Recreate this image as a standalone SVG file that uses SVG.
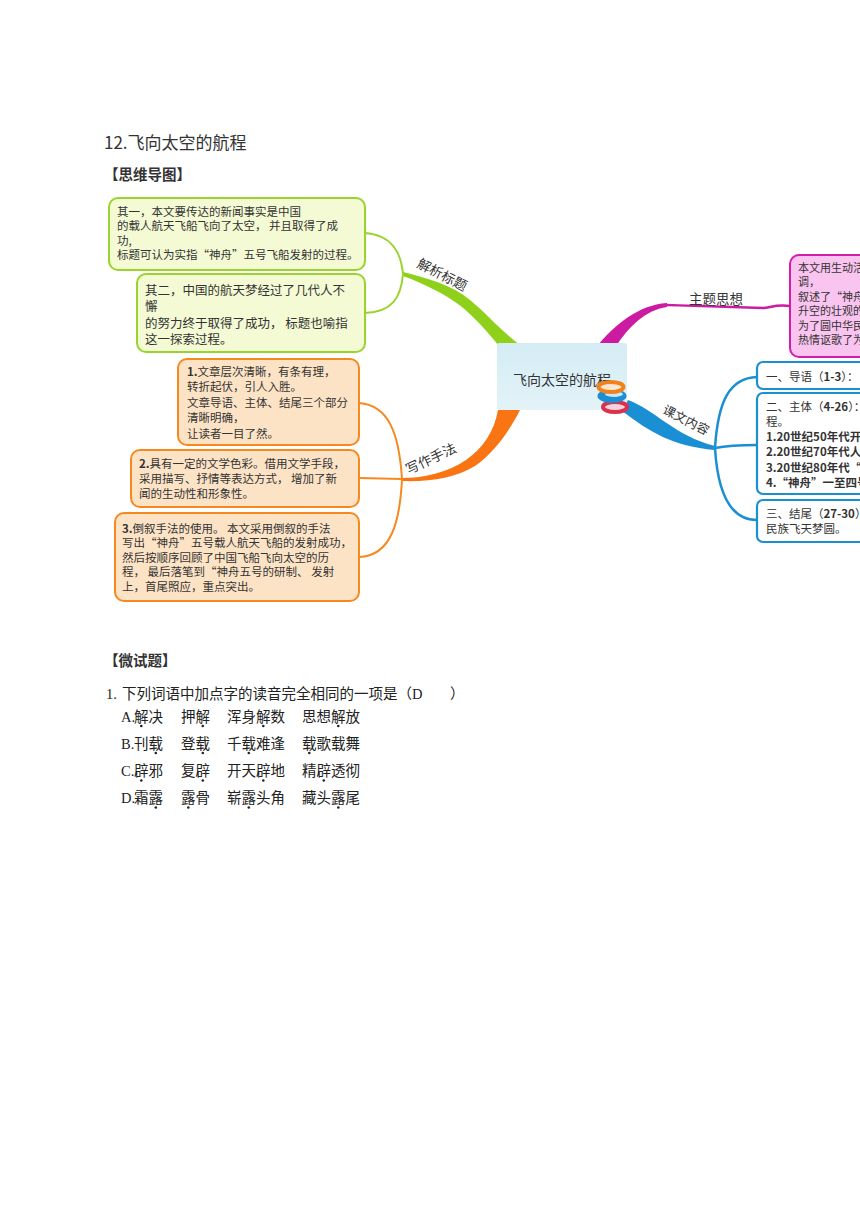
<svg xmlns="http://www.w3.org/2000/svg" width="860" height="1216" viewBox="0 0 860 1216">
<defs>
<style>
text{font-family:"Noto Sans CJK SC","Liberation Sans",sans-serif;fill:#333;}
.ser{font-family:"Liberation Serif","Noto Sans CJK SC",serif;fill:#222;}
.bt{font-size:11.5px;}
.bt2{font-size:12.5px;}
.pt{font-size:11px;}
.q{font-size:14.5px;}
.lab{font-size:13.5px;fill:#333;}
.b{font-weight:bold;}
.gbox{fill:#f3fad4;stroke:#98d42c;stroke-width:2;}
.obox{fill:#fde3c6;stroke:#f5891f;stroke-width:2;}
.pbox{fill:#f9c4ef;stroke:#d01ea8;stroke-width:2;}
.bbox{fill:#fff;stroke:#1a8fd4;stroke-width:2.2;}
.gl{fill:none;stroke:#98d42c;stroke-width:2;}
.ol{fill:none;stroke:#f5891f;stroke-width:2;}
.bl{fill:none;stroke:#1a8fd4;stroke-width:2.5;}
.pl{fill:none;stroke:#cc1aa3;stroke-width:2.5;}
.dot{fill:#222;}
</style>
<linearGradient id="cg" x1="0" y1="0" x2="0" y2="1">
<stop offset="0" stop-color="#d4ecf5"/>
<stop offset="1" stop-color="#e3f3f8"/>
</linearGradient>
</defs>
<rect width="860" height="1216" fill="#fff"/>

<!-- headings -->
<text x="104" y="148.5" style="font-size:17px">12.飞向太空的航程</text>
<text x="104" y="179.5" class="b" style="font-size:14.5px">【思维导图】</text>

<!-- connectors -->
<g id="connectors">
<path d="M403,272 C430,279 452,285 470,300 C485,312 500,330 520,345 L498,345 C488,332 475,318 462,307 C445,294 425,284 403,276 Z" fill="#8fd11a"/>
<path class="gl" d="M365,233 C392,235 401,252 403,274 C401,298 392,312 365,313"/>
<path d="M402,478 C425,478 448,472 466,460 C483,448 494,432 498,410 L520,410 C510,430 495,452 475,466 C455,478 430,482 402,481 Z" fill="#f97514"/>
<path class="ol" d="M359,403 C388,405 399,432 402,479 C400,520 392,556 359,557"/>
<path class="ol" d="M359,478 L402,479"/>
<path d="M598,345 C615,325 638,305 667,303 L667,307 C645,310 628,328 617,345 Z" fill="#cc1aa3"/>
<path class="pl" d="M666,305 C700,306 735,307 763,308 C770,308 775,304 790,306"/>
<path d="M628,400 C655,410 675,436 715,446 L715,450 C672,446 650,432 622,411 Z" fill="#1a8fd4"/>
<path class="bl" d="M715,448 C718,400 730,378 757,377"/>
<path class="bl" d="M715,448 C730,445 742,445 757,445"/>
<path class="bl" d="M715,448 C718,498 733,520 757,520"/>
<text class="lab" transform="translate(440,279) rotate(27)" text-anchor="middle">解析标题</text>
<text class="lab" transform="translate(433,463) rotate(-25)" text-anchor="middle">写作手法</text>
<text class="lab" transform="translate(684,424) rotate(27)" text-anchor="middle" style="font-size:12.5px">课文内容</text>
<text class="lab" x="716" y="304" text-anchor="middle" style="font-size:13.5px">主题思想</text>
</g>

<!-- center -->
<g id="center">
<rect x="497" y="343" width="130" height="67" rx="2" fill="url(#cg)"/>
<text x="562" y="385" text-anchor="middle" style="font-size:14px">飞向太空的航程</text>
<ellipse cx="615" cy="407" rx="12" ry="5" fill="#f6d2dc" stroke="#d8324e" stroke-width="4"/>
<ellipse cx="612" cy="396" rx="14.5" ry="7" fill="#1a8fd4"/>
<ellipse cx="614" cy="394" rx="9" ry="3" fill="#c6e8f8"/>
<ellipse cx="611" cy="387" rx="12.5" ry="5" fill="#fde6cf" stroke="#f0821e" stroke-width="4"/>
</g>

<!-- green nodes -->
<g id="g1">
<rect class="gbox" x="109" y="198" width="256" height="72" rx="9"/>
<text class="bt" x="117" y="215.5">其一，本文要传达的新闻事实是中国</text>
<text class="bt" x="117" y="230">的载人航天飞船飞向了太空， 并且取得了成</text>
<text class="bt" x="117" y="244.5">功,</text>
<text class="bt" x="117" y="259">标题可认为实指“神舟”五号飞船发射的过程。</text>
</g>
<g id="g2">
<rect class="gbox" x="137" y="274" width="228" height="78" rx="9"/>
<text class="bt2" x="145" y="294.5">其二，中国的航天梦经过了几代人不</text>
<text class="bt2" x="145" y="311">懈</text>
<text class="bt2" x="145" y="327.5">的努力终于取得了成功， 标题也喻指</text>
<text class="bt2" x="145" y="344">这一探索过程。</text>
</g>

<!-- orange nodes -->
<g id="o1">
<rect class="obox" x="178" y="359" width="181" height="86" rx="9"/>
<text class="bt" x="187" y="375.5"><tspan class="b">1.</tspan>文章层次清晰，有条有理，</text>
<text class="bt" x="187" y="391">转折起伏，引人入胜。</text>
<text class="bt" x="187" y="406.5">文章导语、主体、结尾三个部分</text>
<text class="bt" x="187" y="422">清晰明确，</text>
<text class="bt" x="187" y="437.5">让读者一目了然。</text>
</g>
<g id="o2">
<rect class="obox" x="131" y="450" width="228" height="57" rx="9"/>
<text class="bt" x="139" y="467.5"><tspan class="b">2.</tspan>具有一定的文学色彩。借用文学手段，</text>
<text class="bt" x="139" y="482.5">采用描写、抒情等表达方式， 增加了新</text>
<text class="bt" x="139" y="497.5">闻的生动性和形象性。</text>
</g>
<g id="o3">
<rect class="obox" x="115" y="513" width="244" height="88" rx="9"/>
<text class="bt" x="122" y="532.5"><tspan class="b">3.</tspan>倒叙手法的使用。 本文采用倒叙的手法</text>
<text class="bt" x="122" y="547">写出“神舟”五号载人航天飞船的发射成功，</text>
<text class="bt" x="122" y="561.5">然后按顺序回顾了中国飞船飞向太空的历</text>
<text class="bt" x="122" y="576">程， 最后落笔到“神舟五号的研制、 发射</text>
<text class="bt" x="122" y="590.5">上，首尾照应，重点突出。</text>
</g>

<!-- magenta node -->
<g id="p1">
<rect class="pbox" x="790" y="255" width="90" height="102" rx="9"/>
<text class="pt" x="798" y="272">本文用生动活</text>
<text class="pt" x="798" y="286.4">调，</text>
<text class="pt" x="798" y="300.8">叙述了“神舟</text>
<text class="pt" x="798" y="315.2">升空的壮观的</text>
<text class="pt" x="798" y="329.6">为了圆中华民</text>
<text class="pt" x="798" y="344">热情讴歌了为</text>
</g>

<!-- blue nodes -->
<g id="b1">
<rect class="bbox" x="757" y="362" width="120" height="27" rx="6"/>
<text class="bt" x="766" y="381">一、导语（<tspan class="b">1-3</tspan>）：</text>
</g>
<g id="b2">
<rect class="bbox" x="757" y="393" width="120" height="101" rx="6"/>
<text class="bt" x="766" y="411">二、主体（<tspan class="b">4-26</tspan>）：</text>
<text class="bt" x="766" y="426">程。</text>
<text class="bt b" x="766" y="440.5">1.20世纪50年代开始</text>
<text class="bt b" x="766" y="456">2.20世纪70年代人造</text>
<text class="bt b" x="766" y="471.5">3.20世纪80年代“863</text>
<text class="bt b" x="766" y="487">4.“神舟”一至四号</text>
</g>
<g id="b3">
<rect class="bbox" x="757" y="500" width="120" height="42" rx="6"/>
<text class="bt" x="766" y="517.5">三、结尾（<tspan class="b">27-30</tspan>）</text>
<text class="bt" x="766" y="532.5">民族飞天梦圆。</text>
</g>

<!-- questions -->
<g id="questions">
<text x="104" y="666" class="b" style="font-size:14.5px">【微试题】</text>
<text class="q ser" x="106" y="698.5">1.<tspan x="122">下列词语中加点字的读音完全相同的一项是（D</tspan><tspan x="450">）</tspan></text>
<text class="q ser" x="121" y="721.5">A.</text>
<text class="q ser" x="134" y="721.5">解决</text>
<text class="q ser" x="181" y="721.5">押解</text>
<text class="q ser" x="227" y="721.5">浑身解数</text>
<text class="q ser" x="302" y="721.5">思想解放</text>
<text class="q ser" x="121" y="748.5">B.</text>
<text class="q ser" x="134" y="748.5">刊载</text>
<text class="q ser" x="181" y="748.5">登载</text>
<text class="q ser" x="227" y="748.5">千载难逢</text>
<text class="q ser" x="302" y="748.5">载歌载舞</text>
<text class="q ser" x="121" y="776">C.</text>
<text class="q ser" x="134" y="776">辟邪</text>
<text class="q ser" x="181" y="776">复辟</text>
<text class="q ser" x="227" y="776">开天辟地</text>
<text class="q ser" x="302" y="776">精辟透彻</text>
<text class="q ser" x="121" y="803">D.</text>
<text class="q ser" x="134" y="803">霜露</text>
<text class="q ser" x="181" y="803">露骨</text>
<text class="q ser" x="227" y="803">崭露头角</text>
<text class="q ser" x="302" y="803">藏头露尾</text>
<circle class="dot" cx="141.3" cy="726" r="1.3"/>
<circle class="dot" cx="202.8" cy="726" r="1.3"/>
<circle class="dot" cx="263.3" cy="726" r="1.3"/>
<circle class="dot" cx="338.3" cy="726" r="1.3"/>
<circle class="dot" cx="155.8" cy="753" r="1.3"/>
<circle class="dot" cx="202.8" cy="753" r="1.3"/>
<circle class="dot" cx="248.8" cy="753" r="1.3"/>
<circle class="dot" cx="309.3" cy="753" r="1.3"/>
<circle class="dot" cx="141.3" cy="780.5" r="1.3"/>
<circle class="dot" cx="202.8" cy="780.5" r="1.3"/>
<circle class="dot" cx="263.3" cy="780.5" r="1.3"/>
<circle class="dot" cx="323.8" cy="780.5" r="1.3"/>
<circle class="dot" cx="155.8" cy="807.5" r="1.3"/>
<circle class="dot" cx="188.3" cy="807.5" r="1.3"/>
<circle class="dot" cx="248.8" cy="807.5" r="1.3"/>
<circle class="dot" cx="338.3" cy="807.5" r="1.3"/>
</g>
</svg>
